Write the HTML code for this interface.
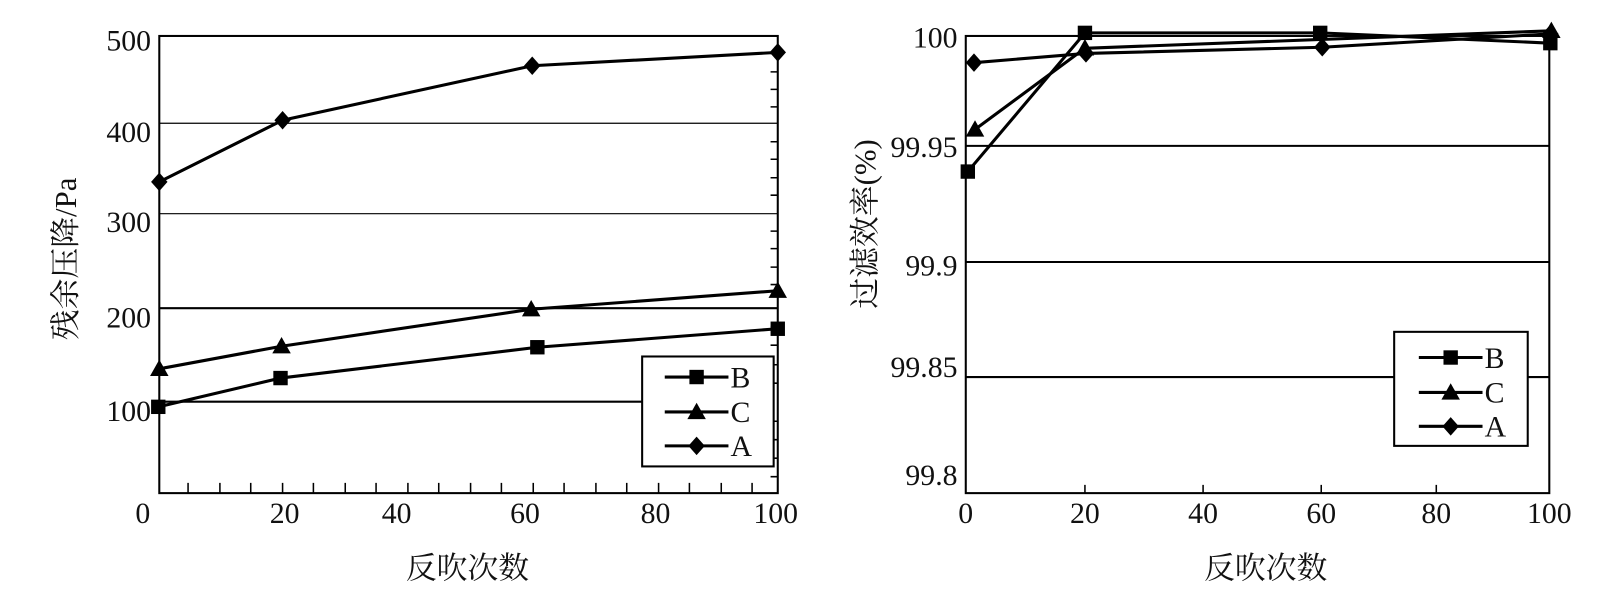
<!DOCTYPE html>
<html><head><meta charset="utf-8"><style>
html,body{margin:0;padding:0;background:#fff;width:1611px;height:601px;overflow:hidden}
text{font-family:"Liberation Serif","Noto Serif CJK SC",serif;fill:#111}
</style></head><body>
<svg width="1611" height="601" viewBox="0 0 1568 585" xmlns="http://www.w3.org/2000/svg">
<defs>
<g id="sq"><rect x="-7" y="-7" width="14" height="14" fill="#000"/></g>
<g id="tr"><polygon points="0,-9 9,7 -9,7" fill="#000"/></g>
<g id="dm"><polygon points="0,-9 8,0 0,9 -8,0" fill="#000"/></g>
</defs>
<!-- LEFT CHART -->
<g stroke="#000" fill="none">
<line x1="155" y1="120" x2="757" y2="120" stroke-width="1.2"/>
<line x1="155" y1="208" x2="757" y2="208" stroke-width="1.2"/>
<line x1="155" y1="300" x2="757" y2="300" stroke-width="2"/>
<line x1="155" y1="391" x2="625" y2="391" stroke-width="2"/>
<rect x="155" y="35" width="602" height="445" stroke-width="2"/>
<path d="M183 480v-10M214 480v-10M244 480v-10M275 480v-10M305 480v-10M336 480v-10M366 480v-10M397 480v-10M427 480v-10M458 480v-10M488 480v-10M519 480v-10M549 480v-10M580 480v-10M610 480v-10M641 480v-10M671 480v-10M702 480v-10M732 480v-10" stroke-width="1.5"/>
<path d="M757 52h-7M757 70h-7M757 87h-7M757 104h-7M757 138h-7M757 155h-7M757 173h-7M757 190h-7M757 225h-7M757 242h-7M757 260h-7M757 277h-7M757 318h-7M757 336h-7M757 355h-7M757 373h-7M757 410h-7M757 428h-7M757 446h-7M757 464h-7" stroke-width="1.5"/>
<polyline points="155,177 275,117 518,64 757,51" stroke-width="3"/>
<polyline points="155,359 274,337 517,301 757,283" stroke-width="3"/>
<polyline points="154,396 273,368 523,338 757,320" stroke-width="3"/>
<rect x="625" y="347" width="128" height="107" fill="#fff" stroke-width="2"/>
<line x1="647" y1="367" x2="709" y2="367" stroke-width="3"/>
<line x1="647" y1="401" x2="709" y2="401" stroke-width="3"/>
<line x1="647" y1="434" x2="709" y2="434" stroke-width="3"/>
</g>
<use href="#dm" x="155" y="177"/><use href="#dm" x="275" y="117"/><use href="#dm" x="518" y="64"/><use href="#dm" x="757" y="51"/>
<use href="#tr" x="155" y="359"/><use href="#tr" x="274" y="337"/><use href="#tr" x="517" y="301"/><use href="#tr" x="757" y="283"/>
<use href="#sq" x="154" y="396"/><use href="#sq" x="273" y="368"/><use href="#sq" x="523" y="338"/><use href="#sq" x="757" y="320"/>
<use href="#sq" x="678" y="367"/><use href="#tr" x="678" y="401"/><use href="#dm" x="678" y="434"/>
<g font-size="29">
<text x="711" y="377">B</text><text x="711" y="411">C</text><text x="711" y="444">A</text>
<g text-anchor="end"><text x="147" y="49">500</text><text x="147" y="138">400</text><text x="147" y="226">300</text><text x="147" y="319">200</text><text x="147" y="410">100</text></g>
<g text-anchor="middle"><text x="139" y="509">0</text><text x="277" y="509">20</text><text x="386" y="509">40</text><text x="511" y="509">60</text><text x="638" y="509">80</text><text x="755" y="509">100</text></g>
</g>
<text x="455" y="563" font-size="30" text-anchor="middle">反吹次数</text>
<text transform="translate(74,252) rotate(-90)" font-size="30" text-anchor="middle">残余压降/Pa</text>
<!-- RIGHT CHART -->
<g stroke="#000" fill="none">
<line x1="940" y1="142" x2="1508" y2="142" stroke-width="2"/>
<line x1="940" y1="255" x2="1508" y2="255" stroke-width="2"/>
<line x1="940" y1="367" x2="1357" y2="367" stroke-width="2"/>
<line x1="1487" y1="367" x2="1508" y2="367" stroke-width="2"/>
<rect x="940" y="35" width="568" height="445" stroke-width="2"/>
<path d="M1056 480v-8M1171 480v-8M1286 480v-8M1398 480v-8" stroke-width="1.5"/>
<polyline points="942,167 1056,32 1285,32 1509,42" stroke-width="3"/>
<polyline points="949,126 1056,47 1510,30" stroke-width="3"/>
<polyline points="948,61 1057,52 1287,46 1509,33" stroke-width="3"/>
<rect x="1357" y="323" width="130" height="111" fill="#fff" stroke-width="2"/>
<line x1="1381" y1="348" x2="1443" y2="348" stroke-width="3"/>
<line x1="1381" y1="382" x2="1443" y2="382" stroke-width="3"/>
<line x1="1381" y1="415" x2="1443" y2="415" stroke-width="3"/>
</g>
<use href="#sq" x="942" y="167"/><use href="#sq" x="1056" y="32"/><use href="#sq" x="1285" y="32"/><use href="#sq" x="1509" y="42"/>
<use href="#tr" x="949" y="126"/><use href="#tr" x="1056" y="47"/><use href="#tr" x="1510" y="30"/>
<use href="#dm" x="948" y="61"/><use href="#dm" x="1057" y="52"/><use href="#dm" x="1287" y="46"/><use href="#dm" x="1509" y="33"/>
<use href="#sq" x="1412" y="348"/><use href="#tr" x="1412" y="382"/><use href="#dm" x="1412" y="415"/>
<g font-size="29">
<text x="1445" y="358">B</text><text x="1445" y="392">C</text><text x="1445" y="425">A</text>
<g text-anchor="end"><text x="932" y="46">100</text><text x="932" y="153">99.95</text><text x="932" y="268">99.9</text><text x="932" y="367">99.85</text><text x="932" y="472">99.8</text></g>
<g text-anchor="middle"><text x="940" y="509">0</text><text x="1056" y="509">20</text><text x="1171" y="509">40</text><text x="1286" y="509">60</text><text x="1398" y="509">80</text><text x="1508" y="509">100</text></g>
</g>
<text x="1232" y="563" font-size="30" text-anchor="middle">反吹次数</text>
<text transform="translate(852,218) rotate(-90)" font-size="30" text-anchor="middle">过滤效率(%)</text>
</svg>
</body></html>
